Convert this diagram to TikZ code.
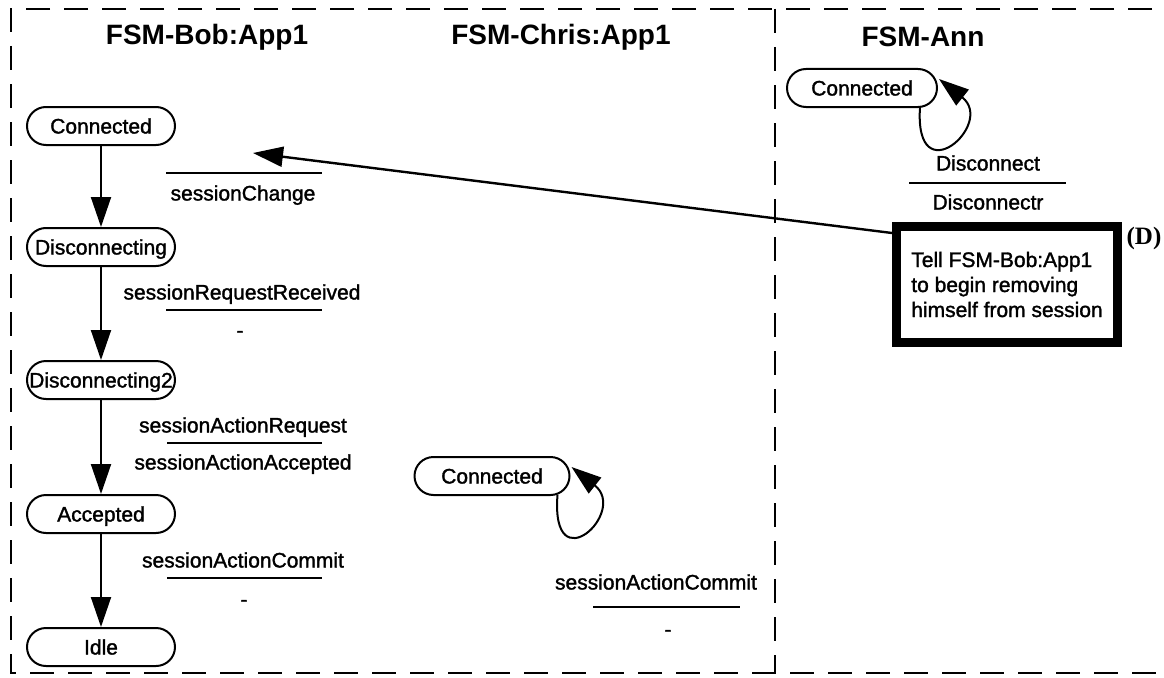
\documentclass[tikz,border=0pt]{standalone}
\usepackage{fontspec}
\setmainfont{Liberation Sans}
\newfontfamily\labfam{Liberation Sans}[FakeBold=1.5]
\newfontfamily\tagfont{Liberation Serif}
\usetikzlibrary{arrows.meta,calc}

\newcommand\labfont{\labfam\fontsize{21}{25}\selectfont}
\newcommand\headfont{\fontsize{28}{32}\selectfont\bfseries}

\tikzset{
  frame/.style={line width=2pt, dash pattern=on 24pt off 14pt},
  fsmstate/.style={draw, line width=2pt, rounded corners=19pt,
    minimum width=148pt, minimum height=38pt, inner sep=0pt,
    text height=15pt, text depth=0pt, font=\labfont},
  lbl/.style={inner sep=0pt, text height=15pt, text depth=0pt, font=\labfont},
  head/.style={inner sep=0pt, font=\headfont},
  bar/.style={line width=1.6pt},
  arr/.style={line width=2pt, -{Triangle[length=30pt,width=20pt]}},
  actionbox/.style={draw, line width=9pt, minimum width=221pt, minimum height=116pt,
    inner xsep=12pt, align=left, font=\labfont},
}

\begin{document}
\begin{tikzpicture}[x=1pt,y=-1pt]
\useasboundingbox (0,0) rectangle (1164,677);

% frame and column divider
\draw[frame] (1190,9) -- (11,9) -- (11,673) -- (1190,673);
\draw[frame] (775,9) -- (775,673);
\draw[line width=2pt] (775,9) -- (775,20) (775,662) -- (775,673);

% column headings
\node[head] (hbob)   at (207,37) {FSM-Bob:App1};
\node[head] (hchris) at (561,37) {FSM-Chris:App1};
\node[head] (hann)   at (923,37) {FSM-Ann};

% FSM-Bob:App1
\node[fsmstate] (b1) at (101,126) {Connected};
\node[fsmstate] (b2) at (101,247) {Disconnecting};
\node[fsmstate] (b3) at (101,380) {Disconnecting2};
\node[fsmstate] (b4) at (101,514) {Accepted};
\node[fsmstate] (b5) at (101,647) {Idle};
\draw[arr] (b1) -- (b2);
\draw[arr] (b2) -- (b3);
\draw[arr] (b3) -- (b4);
\draw[arr] (b4) -- (b5);

\draw[bar] (166,173) -- (322,173);
\node[lbl] (t1b) at (243,193) {sessionChange};

\node[lbl] (t2a) at (242,292) {sessionRequestReceived};
\draw[bar] (166,310) -- (322,310);
\node[lbl] (t2b) at (240,330) {-};

\node[lbl] (t3a) at (243,425) {sessionActionRequest};
\draw[bar] (167,443) -- (322,443);
\node[lbl] (t3b) at (243,462) {sessionActionAccepted};

\node[lbl] (t4a) at (243,560) {sessionActionCommit};
\draw[bar] (167,578) -- (322,578);
\node[lbl] (t4b) at (244,599) {-};

% FSM-Chris:App1
\node[fsmstate, minimum width=155pt] (c1) at (492,476) {Connected};
\draw[arr] ($(c1.east)+(-13,19)$) .. controls ($(c1.east)+(-20,108)$) and ($(c1.east)+(58,36)$) .. ($(c1.east)+(1,-9)$);
\node[lbl] (tca) at (656,582) {sessionActionCommit};
\draw[bar] (593,607) -- (740,607);
\node[lbl] (tcb) at (668,629) {-};

% FSM-Ann
\node[fsmstate, minimum width=150pt] (a1) at (862,88) {Connected};
\draw[arr] ($(a1.east)+(-18,19)$) .. controls ($(a1.east)+(-24,108)$) and ($(a1.east)+(58,36)$) .. ($(a1.east)+(1,-9)$);
\node[lbl] (taa) at (988,163) {Disconnect};
\draw[bar] (909,183) -- (1066,183);
\node[lbl] (tab) at (988,202) {Disconnectr};

\node[actionbox] (act) at (1007,284.5) {Tell FSM-Bob:App1\\to begin removing\\himself from session};
\node[inner sep=0pt, font={\tagfont\bfseries\fontsize{25}{28}\selectfont}] (tag) at (1144,238) {(D)};

% message sent to FSM-Bob:App1
\coordinate (recv) at (253,153);
\draw[arr, line width=2.4pt] ($(act.north west)+(0,11)$) -- (recv);
\end{tikzpicture}
\end{document}
